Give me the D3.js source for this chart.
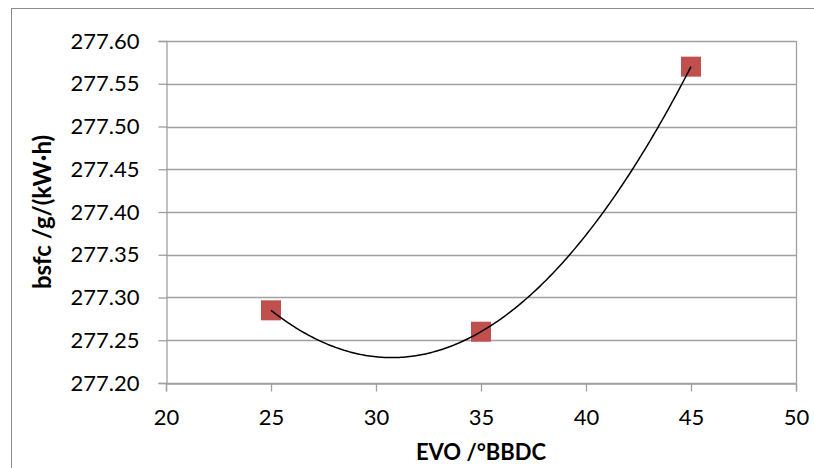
<!DOCTYPE html>
<html>
<head>
<meta charset="utf-8">
<script src="https://cdn.jsdelivr.net/npm/d3@7"></script>
<style>
  body { margin: 0; background: #fff; }
  text { font-family: Lato, "Open Sans", sans-serif; }
</style>
</head>
<body>
<div id="chart"></div>
<script>
const evo = [25, 35, 45];
const bsfc = [277.285, 277.26, 277.57];
const xTicks = [20, 25, 30, 35, 40, 45, 50];
const yTicks = [277.2, 277.25, 277.3, 277.35, 277.4, 277.45, 277.5, 277.55, 277.6];

const width = 814;
const height = 468;
const margin = { top: 41, right: 18, bottom: 85, left: 166 };

// quadratic trendline through the points (least squares, order 2)
const fitQuadratic = (xs, ys) => {
  const n = xs.length;
  const s = (f) => d3.sum(xs.map((x, i) => f(x, ys[i])));
  const m = [
    [n, s((x) => x), s((x) => x * x)],
    [s((x) => x), s((x) => x * x), s((x) => x ** 3)],
    [s((x) => x * x), s((x) => x ** 3), s((x) => x ** 4)],
  ];
  const v = [s((x, y) => y), s((x, y) => x * y), s((x, y) => x * x * y)];
  // gaussian elimination
  for (let i = 0; i < 3; i++) {
    for (let j = i + 1; j < 3; j++) {
      const f = m[j][i] / m[i][i];
      for (let k = i; k < 3; k++) m[j][k] -= f * m[i][k];
      v[j] -= f * v[i];
    }
  }
  const c = [0, 0, 0];
  for (let i = 2; i >= 0; i--) {
    let t = v[i];
    for (let k = i + 1; k < 3; k++) t -= m[i][k] * c[k];
    c[i] = t / m[i][i];
  }
  return (x) => c[0] + c[1] * x + c[2] * x * x;
};

const svg = d3
  .select("#chart")
  .append("svg")
  .attr("width", width)
  .attr("height", height);

svg
  .append("rect")
  .attr("x", 11.5)
  .attr("y", 8.5)
  .attr("width", 830)
  .attr("height", 500)
  .attr("fill", "#fff")
  .attr("stroke", "#8c8c8c")
  .attr("stroke-width", 1);

const x = d3
  .scaleLinear()
  .domain([20, 50])
  .range([margin.left, width - margin.right]);
const y = d3
  .scaleLinear()
  .domain([277.2, 277.6])
  .range([height - margin.bottom, margin.top]);

// gridlines
svg
  .append("g")
  .selectAll("line")
  .data(yTicks)
  .join("line")
  .attr("x1", x(20))
  .attr("x2", x(50))
  .attr("y1", (d) => Math.round(y(d)) + 0.5)
  .attr("y2", (d) => Math.round(y(d)) + 0.5)
  .attr("stroke", "#a0a0a0")
  .attr("stroke-width", 1.3);

// right border of plot area
svg
  .append("line")
  .attr("x1", Math.round(x(50)) + 0.5)
  .attr("x2", Math.round(x(50)) + 0.5)
  .attr("y1", y(277.6))
  .attr("y2", y(277.2))
  .attr("stroke", "#a0a0a0")
  .attr("stroke-width", 1.3);

const yAxis = svg
  .append("g")
  .attr("transform", `translate(${Math.round(x(20)) + 0.5},0)`)
  .call(
    d3
      .axisLeft(y)
      .tickValues(yTicks)
      .tickSize(8)
      .tickPadding(19)
      .tickFormat(d3.format(".2f"))
  );

const xAxis = svg
  .append("g")
  .attr("transform", `translate(0,${Math.round(y(277.2)) + 0.5})`)
  .call(
    d3
      .axisBottom(x)
      .tickValues(xTicks)
      .tickSize(8)
      .tickPadding(18)
      .tickFormat(d3.format("d"))
  );

[xAxis, yAxis].forEach((g) => {
  g.select(".domain").attr("stroke", "#a0a0a0").attr("stroke-width", 1.3);
  g.selectAll(".tick line").attr("stroke", "#a0a0a0").attr("stroke-width", 1.3);
  g.selectAll(".tick text")
    .attr("fill", "#000")
    .style("font-size", "22px")
    .style("font-family", "Lato, sans-serif");
});

// trendline
const trend = fitQuadratic(evo, bsfc);
const curve = d3.range(0, 201).map((i) => {
  const xv = d3.min(evo) + (i / 200) * (d3.max(evo) - d3.min(evo));
  return [xv, trend(xv)];
});

// markers
svg
  .append("g")
  .selectAll("rect")
  .data(evo)
  .join("rect")
  .attr("x", (d) => x(d) - 10)
  .attr("y", (d, i) => y(bsfc[i]) - 10)
  .attr("width", 20)
  .attr("height", 20)
  .attr("fill", "#c0504d");

svg
  .append("path")
  .datum(curve)
  .attr("fill", "none")
  .attr("stroke", "#000")
  .attr("stroke-width", 1.5)
  .attr(
    "d",
    d3
      .line()
      .x((d) => x(d[0]))
      .y((d) => y(d[1]))
  );

// axis titles
svg
  .append("text")
  .attr("x", (x(20) + x(50)) / 2)
  .attr("y", 460)
  .attr("text-anchor", "middle")
  .style("font-size", "22px")
  .style("font-weight", "bold")
  .text("EVO /°BBDC");

svg
  .append("text")
  .attr("transform", `translate(51,${(y(277.2) + y(277.6)) / 2}) rotate(-90)`)
  .attr("text-anchor", "middle")
  .style("font-size", "24px")
  .style("font-weight", "bold")
  .text("bsfc /g/(kW·h)");
</script>
</body>
</html>
